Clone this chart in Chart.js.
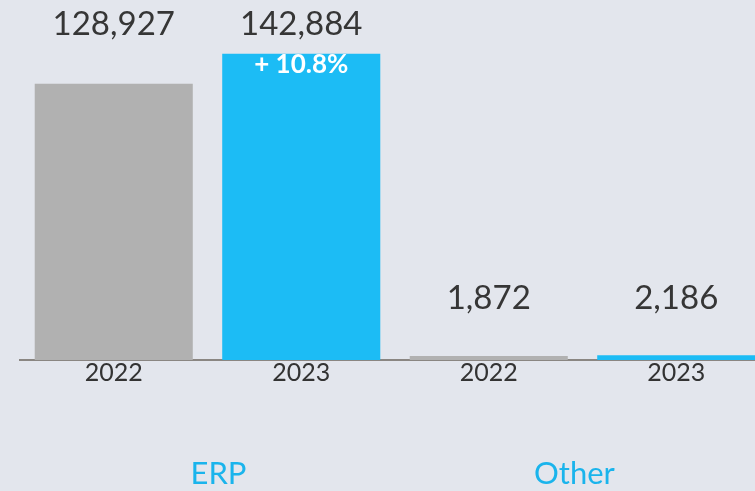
<!DOCTYPE html>
<html>
<head>
<meta charset="utf-8">
<script src="https://cdn.jsdelivr.net/npm/chart.js@4.4.0/dist/chart.umd.min.js"></script>
<style>
  html, body { margin: 0; padding: 0; background: #e3e6ed; overflow: hidden; width: 755px; height: 491px; }
  canvas { display: block; }
</style>
</head>
<body>
<canvas id="c" width="775" height="491"></canvas>
<script>
// ---- data ----
const groups = ['ERP', 'Other'];
const years = ['2022', '2023'];
const values2022 = [128927, 1872];
const values2023 = [142884, 2186];
const changeLabels = ['+ 10.8%', null];

// ---- build library tables ----
const labels = [];
const values = [];
const colors = [];
const yearColors = { '2022': '#b1b1b1', '2023': '#1cbcf5' };
groups.forEach((g, gi) => {
  labels.push(years[0]); values.push(values2022[gi]); colors.push(yearColors[years[0]]);
  labels.push(years[1]); values.push(values2023[gi]); colors.push(yearColors[years[1]]);
});

const fmt = v => v.toLocaleString('en-US');
const valueRowY = [24, 298];      // label row per group (layout)
const groupLabelShift = [11, -8]; // layout nudges for group titles

const labelPlugin = {
  id: 'labels',
  afterDatasetsDraw(chart) {
    const ctx = chart.ctx;
    const meta = chart.getDatasetMeta(0);
    ctx.save();
    ctx.textAlign = 'center';
    ctx.textBaseline = 'middle';
    ctx.font = '33px Lato';
    ctx.fillStyle = '#363636';
    meta.data.forEach((bar, i) => {
      const gi = Math.floor(i / 2);
      ctx.fillText(fmt(values[i]), bar.x, valueRowY[gi]);
    });
    ctx.font = 'bold 26px Lato';
    ctx.fillStyle = '#ffffff';
    groups.forEach((g, gi) => {
      if (changeLabels[gi]) {
        const bar = meta.data[gi * 2 + 1];
        ctx.fillText(changeLabels[gi], bar.x, bar.y + 11);
      }
    });
    ctx.font = '31px Lato';
    ctx.fillStyle = '#1ab4ec';
    groups.forEach((g, gi) => {
      const a = meta.data[gi * 2].x, b = meta.data[gi * 2 + 1].x;
      ctx.fillText(g, (a + b) / 2 + groupLabelShift[gi], 474);
    });
    ctx.restore();
  }
};

new Chart(document.getElementById('c'), {
  type: 'bar',
  data: {
    labels: labels,
    datasets: [{
      data: values,
      backgroundColor: colors,
      borderWidth: 0,
      barPercentage: 0.843,
      categoryPercentage: 1.0
    }]
  },
  options: {
    responsive: false,
    animation: false,
    devicePixelRatio: 1,
    layout: { padding: { left: 20, right: 5, top: 0, bottom: 0 } },
    plugins: { legend: { display: false }, tooltip: { enabled: false } },
    scales: {
      y: { display: false, min: 0, max: 168000 },
      x: {
        afterFit: s => { s.height = 131; },
        grid: { display: false, drawTicks: false },
        border: { display: true, color: '#8a8682', width: 2 },
        ticks: { color: '#333333', font: { family: 'Lato', size: 25 }, padding: -2 }
      }
    }
  },
  plugins: [labelPlugin]
});
</script>
</body>
</html>
